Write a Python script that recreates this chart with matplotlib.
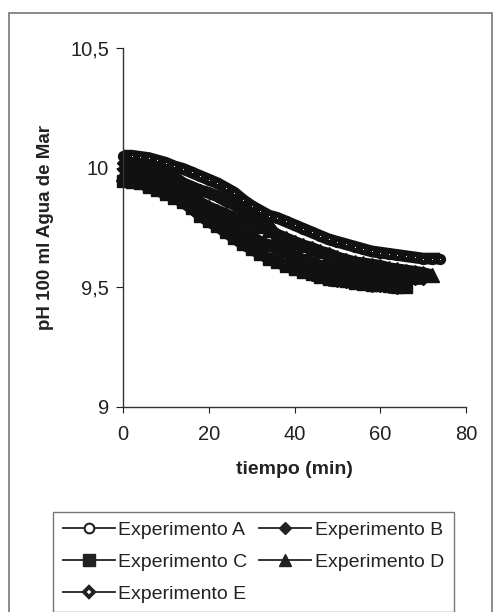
import numpy as np
import matplotlib
matplotlib.use("Agg")
import matplotlib.pyplot as plt
from matplotlib.patches import Rectangle
from matplotlib.lines import Line2D

plt.rcParams['font.family'] = ['Liberation Sans', 'DejaVu Sans']

# lecturas cada 2 minutos
t_a = np.arange(0, 75, 2)
ph_a = [10.05, 10.05, 10.045, 10.04, 10.03, 10.02, 10.005, 9.995, 9.98, 9.965,
        9.95, 9.935, 9.915, 9.895, 9.865, 9.84, 9.82, 9.80, 9.79, 9.775,
        9.76, 9.745, 9.73, 9.715, 9.70, 9.69, 9.68, 9.67, 9.66, 9.65,
        9.645, 9.64, 9.635, 9.63, 9.625, 9.62, 9.62, 9.62]

t_b = np.arange(0, 71, 2)
ph_b = [9.995, 9.99, 9.98, 9.965, 9.95, 9.935, 9.915, 9.895, 9.87, 9.84,
        9.81, 9.785, 9.76, 9.745, 9.725, 9.71, 9.69, 9.675, 9.66, 9.645,
        9.63, 9.615, 9.605, 9.59, 9.58, 9.57, 9.565, 9.56, 9.555, 9.55,
        9.55, 9.545, 9.54, 9.54, 9.535, 9.535]

t_c = np.arange(0, 67, 2)
ph_c = [9.945, 9.94, 9.935, 9.92, 9.905, 9.89, 9.875, 9.855, 9.83, 9.80,
        9.775, 9.755, 9.73, 9.705, 9.68, 9.66, 9.64, 9.62, 9.605, 9.59,
        9.575, 9.565, 9.555, 9.545, 9.535, 9.53, 9.525, 9.52, 9.515, 9.51,
        9.51, 9.505, 9.50, 9.50]

t_d = np.arange(0, 73, 2)
ph_d = [9.975, 9.97, 9.96, 9.95, 9.94, 9.925, 9.91, 9.895, 9.875, 9.855,
        9.835, 9.82, 9.805, 9.79, 9.78, 9.77, 9.755, 9.74, 9.72, 9.705,
        9.69, 9.675, 9.665, 9.65, 9.64, 9.625, 9.615, 9.605, 9.60, 9.595,
        9.59, 9.58, 9.575, 9.57, 9.565, 9.56, 9.55]

t_e = np.arange(0, 65, 2)
ph_e = [10.02, 10.015, 10.005, 9.995, 9.985, 9.975, 9.96, 9.935, 9.92, 9.905,
        9.895, 9.88, 9.86, 9.845, 9.825, 9.805, 9.785, 9.755, 9.71, 9.66,
        9.61, 9.565, 9.552, 9.542, 9.532, 9.527, 9.522, 9.517, 9.512, 9.507,
        9.507, 9.502, 9.498]

labels = ['Experimento A', 'Experimento B', 'Experimento C', 'Experimento D', 'Experimento E']
yticks = [9, 9.5, 10, 10.5]
yticklabels = ['9', '9,5', '10', '10,5']
xticks = [0, 20, 40, 60, 80]

fig = plt.figure(figsize=(4.96, 6.12), dpi=100)
ax = fig.add_axes([0.248, 0.335, 0.6915, 0.5866])

styles = [
    dict(marker='o', ms=4.5, mew=3.6, mfc='white'),
    dict(marker='D', ms=6.5, mew=1, mfc='#111'),
    dict(marker='s', ms=8, mew=1, mfc='#111'),
    dict(marker='^', ms=9.5, mew=1, mfc='#111'),
    dict(marker='D', ms=6.5, mew=1, mfc='#111'),
]
legend_styles = [
    dict(marker='o', ms=7, mew=1.5, mfc='white'),
    dict(marker='D', ms=6.5, mew=1, mfc='#222'),
    dict(marker='s', ms=8.5, mew=1, mfc='#222'),
    dict(marker='^', ms=9, mew=1, mfc='#222'),
    dict(marker='D', ms=5.5, mew=2.8, mfc='white'),
]
series = [(t_a, ph_a), (t_b, ph_b), (t_c, ph_c), (t_d, ph_d), (t_e, ph_e)]

handles = []
for (t, ph), st, lst in zip(series, styles, legend_styles):
    # los marcadores estan tan juntos que forman una banda continua
    ax.plot(t, ph, color='#111', lw=8.5, solid_capstyle='butt', clip_on=False)
    ax.plot(t, ph, color='#111', lw=0, mec='#111', clip_on=False, **st)
    handles.append(Line2D([], [], color='#222', lw=1.3, mec='#222', **lst))

ax.set_xlim(0, 80)
ax.set_ylim(9, 10.5)
ax.set_xticks(xticks)
ax.set_yticks(yticks)
ax.set_yticklabels(yticklabels)
ax.tick_params(axis='both', labelsize=14.5, colors='#222', direction='out')
ax.tick_params(axis='y', length=5, pad=5)
ax.tick_params(axis='x', length=4, pad=9)
for s in ['top', 'right']:
    ax.spines[s].set_visible(False)
for s in ['left', 'bottom']:
    ax.spines[s].set_color('#333')
    ax.spines[s].set_linewidth(1)

ax.set_xlabel('tiempo (min)', fontsize=14, fontweight='bold', color='#222')
ax.xaxis.set_label_coords(0.5, -0.15)
ax.set_ylabel('pH 100 ml Agua de Mar', fontsize=13.5, fontweight='bold', color='#222')
ax.yaxis.set_label_coords(-0.2, 0.5)

# orden por filas: A B / C D / E
order = [0, 2, 4, 1, 3]
leg = fig.legend([handles[i] for i in order], [labels[i] for i in order],
                 loc='upper left', bbox_to_anchor=(53.3 / 496, 1 - 511.7 / 612),
                 ncol=2, frameon=True, fancybox=False, edgecolor='#555',
                 fontsize=14, handlelength=2.65, handletextpad=0.2,
                 columnspacing=0.6, labelspacing=0.73, borderpad=0.5,
                 borderaxespad=0)
for txt in leg.get_texts():
    txt.set_color('#222')
leg.get_frame().set_linewidth(1)

fig.add_artist(Rectangle((8.5 / 496, -0.01), (492 - 8.5) / 496, 1 - 12.7 / 612 + 0.01,
                         transform=fig.transFigure, fill=False, edgecolor='#777', lw=1.2))

fig.savefig('out.png', dpi=100, facecolor='white')
